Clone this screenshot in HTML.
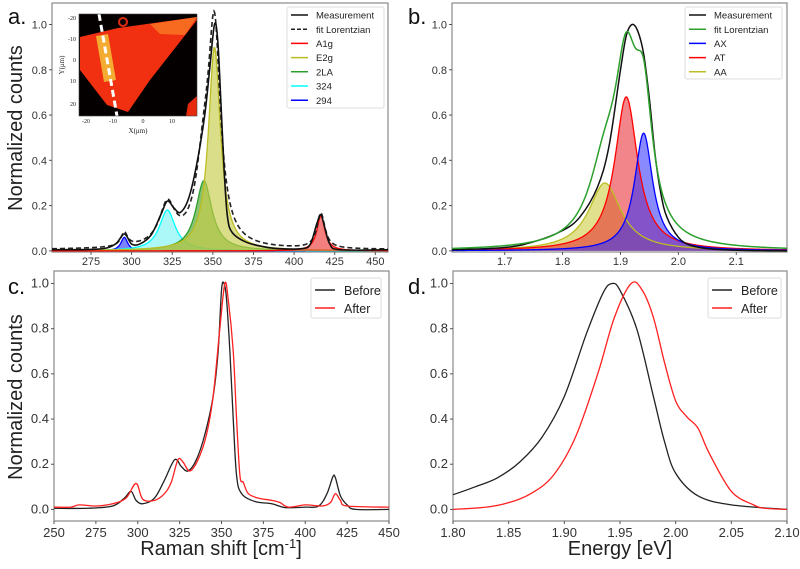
<!DOCTYPE html>
<html><head><meta charset="utf-8">
<style>
html,body{margin:0;padding:0;background:#fff;}
svg{display:block;font-family:"Liberation Sans",sans-serif;}
</style></head>
<body>
<svg id="fig" width="800" height="569" viewBox="0 0 800 569" xmlns="http://www.w3.org/2000/svg">
  <text x="8" y="24" font-size="22" fill="#111">a.</text>
  <text x="408" y="24" font-size="22" fill="#111">b.</text>
  <text x="8" y="294" font-size="22" fill="#111">c.</text>
  <text x="408" y="294" font-size="22" fill="#111">d.</text>
  <text transform="translate(22,128) rotate(-90)" text-anchor="middle" font-size="20" fill="#222">Normalized counts</text>
  <text transform="translate(22,397) rotate(-90)" text-anchor="middle" font-size="20" fill="#222">Normalized counts</text>
  <text x="221" y="555" text-anchor="middle" font-size="20" fill="#222">Raman shift [cm<tspan dy="-7" font-size="13">-1</tspan><tspan dy="7">]</tspan></text>
  <text x="620" y="555" text-anchor="middle" font-size="20" fill="#222">Energy [eV]</text>
</svg>
<script>
// ---- Panel a data ----
const aPeakNames = ["294","324","2LA","E2g","A1g"];
const aPeakCenters = [295.5, 322, 344.5, 351, 416.5];
const aPeakAmps = [0.06, 0.18, 0.31, 0.90, 0.155];
const aPeakWidths = [2.5, 6, 6, 4.5, 3];
const aBaseline = 0.005;
const aMeasX = [251,280,290,295.5,300,305,312,318,322,326,330,335,340,345,348,351,353,355,357,359,362,370,380,390,405,410,414,416.5,419,422,428,458];
const aMeasY = [0.005,0.008,0.03,0.075,0.03,0.03,0.07,0.16,0.22,0.19,0.17,0.23,0.38,0.6,0.8,1.0,0.93,0.65,0.35,0.15,0.08,0.04,0.02,0.01,0.01,0.03,0.12,0.16,0.1,0.03,0.005,0.005];
const aXTicks = [275,300,325,350,375,400,425,450];
const yTicks = [0.0,0.2,0.4,0.6,0.8,1.0];
// ---- Panel b data ----
const bPeakNames = ["AA","AT","AX"];
const bPeakCenters = [1.873, 1.910, 1.940];
const bPeakAmps = [0.30, 0.68, 0.52];
const bPeakWidths = [0.034, 0.024, 0.019];
const bMeasX = [1.609,1.70,1.75,1.80,1.83,1.86,1.88,1.90,1.91,1.92,1.93,1.94,1.95,1.96,1.97,1.98,2.00,2.02,2.05,2.10,2.19];
const bMeasY = [0.005,0.015,0.04,0.09,0.15,0.28,0.46,0.8,0.95,1.0,0.97,0.87,0.67,0.42,0.25,0.15,0.06,0.025,0.01,0.003,0.0];
const bXTicks = [1.7,1.8,1.9,2.0,2.1];
// ---- Panel c data ----
const cBeforeX = [250,270,285,292,296,299,303,310,316,322,326,330,335,340,345,348,350,351.5,353,355,357,359,362,370,380,388,400,408,413,416.5,418,421,425,430,450];
const cBeforeY = [0.005,0.005,0.015,0.05,0.08,0.04,0.025,0.05,0.13,0.22,0.19,0.17,0.22,0.33,0.5,0.7,0.97,1.0,0.93,0.7,0.4,0.15,0.07,0.035,0.025,0.008,0.01,0.015,0.07,0.145,0.14,0.06,0.02,0.0,0.0];
const cAfterX = [250,260,265,275,285,293,299,303,310,316,320,324,327,331,336,341,345,349,352,354,357,359,361,363,366,372,380,385,390,400,410,415,418,421,425,450];
const cAfterY = [0.01,0.01,0.02,0.015,0.025,0.05,0.115,0.045,0.04,0.07,0.12,0.22,0.21,0.17,0.22,0.33,0.5,0.8,1.0,0.93,0.7,0.4,0.15,0.12,0.07,0.05,0.04,0.03,0.01,0.02,0.015,0.03,0.07,0.04,0.015,0.01];
const cXTicks = [250,275,300,325,350,375,400,425,450];
// ---- Panel d data ----
const dBeforeX = [1.80,1.82,1.84,1.86,1.88,1.90,1.92,1.935,1.943,1.95,1.965,1.98,1.99,2.00,2.02,2.05,2.10];
const dBeforeY = [0.065,0.1,0.14,0.21,0.32,0.5,0.78,0.96,1.0,0.97,0.8,0.5,0.3,0.16,0.06,0.02,0.0];
const dAfterX = [1.80,1.83,1.85,1.87,1.89,1.91,1.93,1.945,1.96,1.97,1.98,1.99,2.00,2.01,2.02,2.03,2.05,2.07,2.08,2.10];
const dAfterY = [0.0,0.01,0.03,0.07,0.15,0.32,0.6,0.85,1.0,0.97,0.85,0.65,0.48,0.41,0.36,0.25,0.08,0.02,0.005,0.0];
const dXTicks = [1.80,1.85,1.90,1.95,2.00,2.05,2.10];

const NS="http://www.w3.org/2000/svg";
const svg=document.getElementById('fig');
function mk(tag,attrs,parent){const e=document.createElementNS(NS,tag);for(const k in attrs)e.setAttribute(k,attrs[k]);(parent||svg).appendChild(e);return e;}
function lor(x,c,a,w){return a/(1+((x-c)/w)*((x-c)/w));}
function axes(x0,x1,y0,y1,xmin,xmax,ymin,ymax){
  return {sx:v=>x0+(v-xmin)/(xmax-xmin)*(x1-x0), sy:v=>y1-(v-ymin)/(ymax-ymin)*(y1-y0), x0,x1,y0,y1,xmin,xmax};
}
function smoothPath(pts){
  let d='M'+pts[0][0].toFixed(2)+','+pts[0][1].toFixed(2);
  for(let i=0;i<pts.length-1;i++){
    const p0=pts[i-1]||pts[i],p1=pts[i],p2=pts[i+1],p3=pts[i+2]||p2;
    const c1x=p1[0]+(p2[0]-p0[0])/6,c1y=p1[1]+(p2[1]-p0[1])/6;
    const c2x=p2[0]-(p3[0]-p1[0])/6,c2y=p2[1]-(p3[1]-p1[1])/6;
    d+=`C${c1x.toFixed(2)},${c1y.toFixed(2)} ${c2x.toFixed(2)},${c2y.toFixed(2)} ${p2[0].toFixed(2)},${p2[1].toFixed(2)}`;
  }
  return d;
}
function frame(ax,xt,fmt,name,tickSize){
  const g=mk('g',{});
  
  
  const r=mk('rect',{x:ax.x0,y:ax.y0,width:ax.x1-ax.x0,height:ax.y1-ax.y0,fill:'none',stroke:'#888','stroke-width':1.2},g);
  
  
  xt.forEach(v=>{const x=ax.sx(v);
    mk('line',{x1:x,x2:x,y1:ax.y1,y2:ax.y1+3,stroke:'#555'},g);
    const t=mk('text',{x:x,y:ax.y1+(tickSize>11?16:13),'text-anchor':'middle','font-size':tickSize,fill:'#333'},g);
    t.textContent=fmt(v);
    
    
  });
  yTicks.forEach(v=>{const y=ax.sy(v);
    mk('line',{x1:ax.x0-3,x2:ax.x0,y1:y,y2:y,stroke:'#555'},g);
    const t=mk('text',{x:ax.x0-5,y:y+4,'text-anchor':'end','font-size':tickSize,fill:'#333'},g);
    t.textContent=v.toFixed(1);
    
    
  });
}
function clip(ax,id){const cp=mk('clipPath',{id:id});mk('rect',{x:ax.x0,y:ax.y0,width:ax.x1-ax.x0,height:ax.y1-ax.y0},cp);return 'url(#'+id+')';}
function sample(ax,f,n){const pts=[];for(let i=0;i<=n;i++){const v=ax.xmin+(ax.xmax-ax.xmin)*i/n;pts.push([ax.sx(v),ax.sy(f(v))]);}return pts;}
function linePts(ax,pts){let d='';pts.forEach((p,i)=>d+=(i?'L':'M')+p[0].toFixed(2)+','+p[1].toFixed(2));return d;}
function legend(x,y,w,h,items,fs,sp,name){
  const g=mk('g',{});
  
  
  mk('rect',{x:x,y:y,width:w,height:h,fill:'#fff','fill-opacity':0.85,stroke:'#ddd',rx:2},g);
  items.forEach((it,i)=>{const yy=y+8+sp*i+ (fs>11?4:0);
    const e=mk('g',{},g);
    
    
    mk('line',{x1:x+4,x2:x+4+(fs>11?20:17),y1:yy,y2:yy,stroke:it[1],'stroke-width':1.5,'stroke-dasharray':it[2]||'none'},e);
    const t=mk('text',{x:x+(fs>11?33:29),y:yy+fs*0.38,'font-size':fs,fill:'#222'},e);t.textContent=it[0];
  });
}

// ===== Panel a =====
const A=axes(52,388,3,252,251,457.8,-0.005,1.095);
frame(A,aXTicks,v=>v,'panel-a',11);
const cpA=clip(A,'cpa');
const aCols=['#0000ff','#00ffff','#2ca02c','#bcbd22','#ff0000'];
const aFill=['#3344ff','#7ff5f5','#4aa32a','#c8cc4a','#ee3a3a'];
aPeakNames.forEach((nm,i)=>{
  const pts=sample(A,v=>lor(v,aPeakCenters[i],aPeakAmps[i],aPeakWidths[i]),400);
  const fp=[[A.sx(A.xmin),A.sy(0)],...pts,[A.sx(A.xmax),A.sy(0)]];
  const f=mk('path',{d:linePts(A,fp)+'Z',fill:aFill[i],'fill-opacity':0.65,stroke:'none','clip-path':cpA});
  
  
  const l=mk('path',{d:linePts(A,pts),fill:'none',stroke:aCols[i],'stroke-width':1.3,'clip-path':cpA});
  
  
});
const fitA=sample(A,v=>aBaseline+aPeakCenters.reduce((s,c,i)=>s+lor(v,c,aPeakAmps[i],aPeakWidths[i]),0),500);
const fa=mk('path',{d:linePts(A,fitA),fill:'none',stroke:'#222','stroke-width':1.6,'stroke-dasharray':'5,3','clip-path':cpA});


const ma=mk('path',{d:smoothPath(aMeasX.map((x,i)=>[A.sx(x),A.sy(aMeasY[i])])),fill:'none',stroke:'#111','stroke-width':1.6,'clip-path':cpA});


legend(287,7,97,101,[['Measurement','#111'],['fit Lorentzian','#222','4,2'],['A1g','#ff0000'],['E2g','#bcbd22'],['2LA','#2ca02c'],['324','#00ffff'],['294','#0000ff']],9.5,14.2,'legend-a');

// inset map
const ins=mk('g',{});


mk('rect',{x:79,y:14,width:118,height:102,fill:'#050000'},ins);
mk('polygon',{points:'80,37 118,28 197,17 197,20 150,80 128,112 107,105 80,70',fill:'#f03010'},ins);
mk('polygon',{points:'150,24 197,17 185,35 160,34',fill:'#f86a20'},ins);
mk('polygon',{points:'188,104 197,96 197,116 186,116',fill:'#e82a0c'},ins);
mk('circle',{cx:123,cy:22,r:4,fill:'none',stroke:'#e02a10','stroke-width':2},ins);
mk('polygon',{points:'96,36 108,34 116,80 104,82',fill:'#f5e040','opacity':0.7},ins);
mk('line',{x1:99,y1:14,x2:117,y2:116,stroke:'#fff','stroke-width':3,'stroke-dasharray':'7,4'},ins);
mk('rect',{x:79,y:14,width:118,height:102,fill:'none',stroke:'#444','stroke-width':0.6},ins);
[[-20,18],[-10,39],[0,60],[10,81],[20,104]].forEach(p=>{const t=mk('text',{x:76,y:p[1]+2,'text-anchor':'end','font-size':6,'font-family':'Liberation Serif',fill:'#222'},ins);t.textContent=p[0];});
[[-20,86],[-10,113],[0,143],[10,172]].forEach(p=>{const t=mk('text',{x:p[1],y:123,'text-anchor':'middle','font-size':6,'font-family':'Liberation Serif',fill:'#222'},ins);t.textContent=p[0];});
const ixl=mk('text',{x:138,y:133,'text-anchor':'middle','font-size':7,'font-family':'Liberation Serif',fill:'#222'},ins);ixl.textContent='X(μm)';
const iyl=mk('text',{transform:'translate(64,65) rotate(-90)','text-anchor':'middle','font-size':7,'font-family':'Liberation Serif',fill:'#222'},ins);iyl.textContent='Y(μm)';

// ===== Panel b =====
const B=axes(452,787,3,252,1.609,2.1876,-0.005,1.095);
frame(B,bXTicks,v=>v.toFixed(1),'panel-b',11);
const cpB=clip(B,'cpb');
const bCols=['#bcbd22','#ff0000','#0000ff'];
const bFill=['#c8c630','#e8202a','#2a2aff'];
bPeakNames.forEach((nm,i)=>{
  const pts=sample(B,v=>lor(v,bPeakCenters[i],bPeakAmps[i],bPeakWidths[i]),400);
  const fp=[[B.sx(B.xmin),B.sy(0)],...pts,[B.sx(B.xmax),B.sy(0)]];
  const f=mk('path',{d:linePts(B,fp)+'Z',fill:bFill[i],'fill-opacity':0.55,stroke:'none','clip-path':cpB});
  
  
});
bPeakNames.forEach((nm,i)=>{
  const pts=sample(B,v=>lor(v,bPeakCenters[i],bPeakAmps[i],bPeakWidths[i]),400);
  const l=mk('path',{d:linePts(B,pts),fill:'none',stroke:bCols[i],'stroke-width':1.3,'clip-path':cpB});
  
  
});
const mb=mk('path',{d:smoothPath(bMeasX.map((x,i)=>[B.sx(x),B.sy(bMeasY[i])])),fill:'none',stroke:'#111','stroke-width':1.5,'clip-path':cpB});


const fitB=sample(B,v=>bPeakCenters.reduce((s,c,i)=>s+lor(v,c,bPeakAmps[i],bPeakWidths[i]),0),500);
const fb=mk('path',{d:linePts(B,fitB),fill:'none',stroke:'#2ca02c','stroke-width':1.5,'clip-path':cpB});


legend(685,7,97,72,[['Measurement','#111'],['fit Lorentzian','#2ca02c'],['AX','#0000ff'],['AT','#ff0000'],['AA','#bcbd22']],9.5,14.2,'legend-b');

// ===== Panel c =====
const C=axes(54,389,271,521,250,450,-0.0513,1.0553);
frame(C,cXTicks,v=>v,'panel-c',13);
const cpC=clip(C,'cpc');
const cb=mk('path',{d:smoothPath(cBeforeX.map((x,i)=>[C.sx(x),C.sy(cBeforeY[i])])),fill:'none',stroke:'#222','stroke-width':1.3,'clip-path':cpC});


const ca=mk('path',{d:smoothPath(cAfterX.map((x,i)=>[C.sx(x),C.sy(cAfterY[i])])),fill:'none',stroke:'#ff2020','stroke-width':1.3,'clip-path':cpC});


legend(311,278,70,40,[['Before','#222'],['After','#ff2020']],12.5,18,'legend-c');

// ===== Panel d =====
const D=axes(453,787,271,521,1.80,2.10,-0.0513,1.0553);
frame(D,dXTicks,v=>v.toFixed(2),'panel-d',13);
const cpD=clip(D,'cpd');
const db=mk('path',{d:smoothPath(dBeforeX.map((x,i)=>[D.sx(x),D.sy(dBeforeY[i])])),fill:'none',stroke:'#222','stroke-width':1.3,'clip-path':cpD});


const da=mk('path',{d:smoothPath(dAfterX.map((x,i)=>[D.sx(x),D.sy(dAfterY[i])])),fill:'none',stroke:'#ff2020','stroke-width':1.3,'clip-path':cpD});


legend(708,278,73,40,[['Before','#222'],['After','#ff2020']],12.5,18,'legend-d');
</script>
</body></html>
